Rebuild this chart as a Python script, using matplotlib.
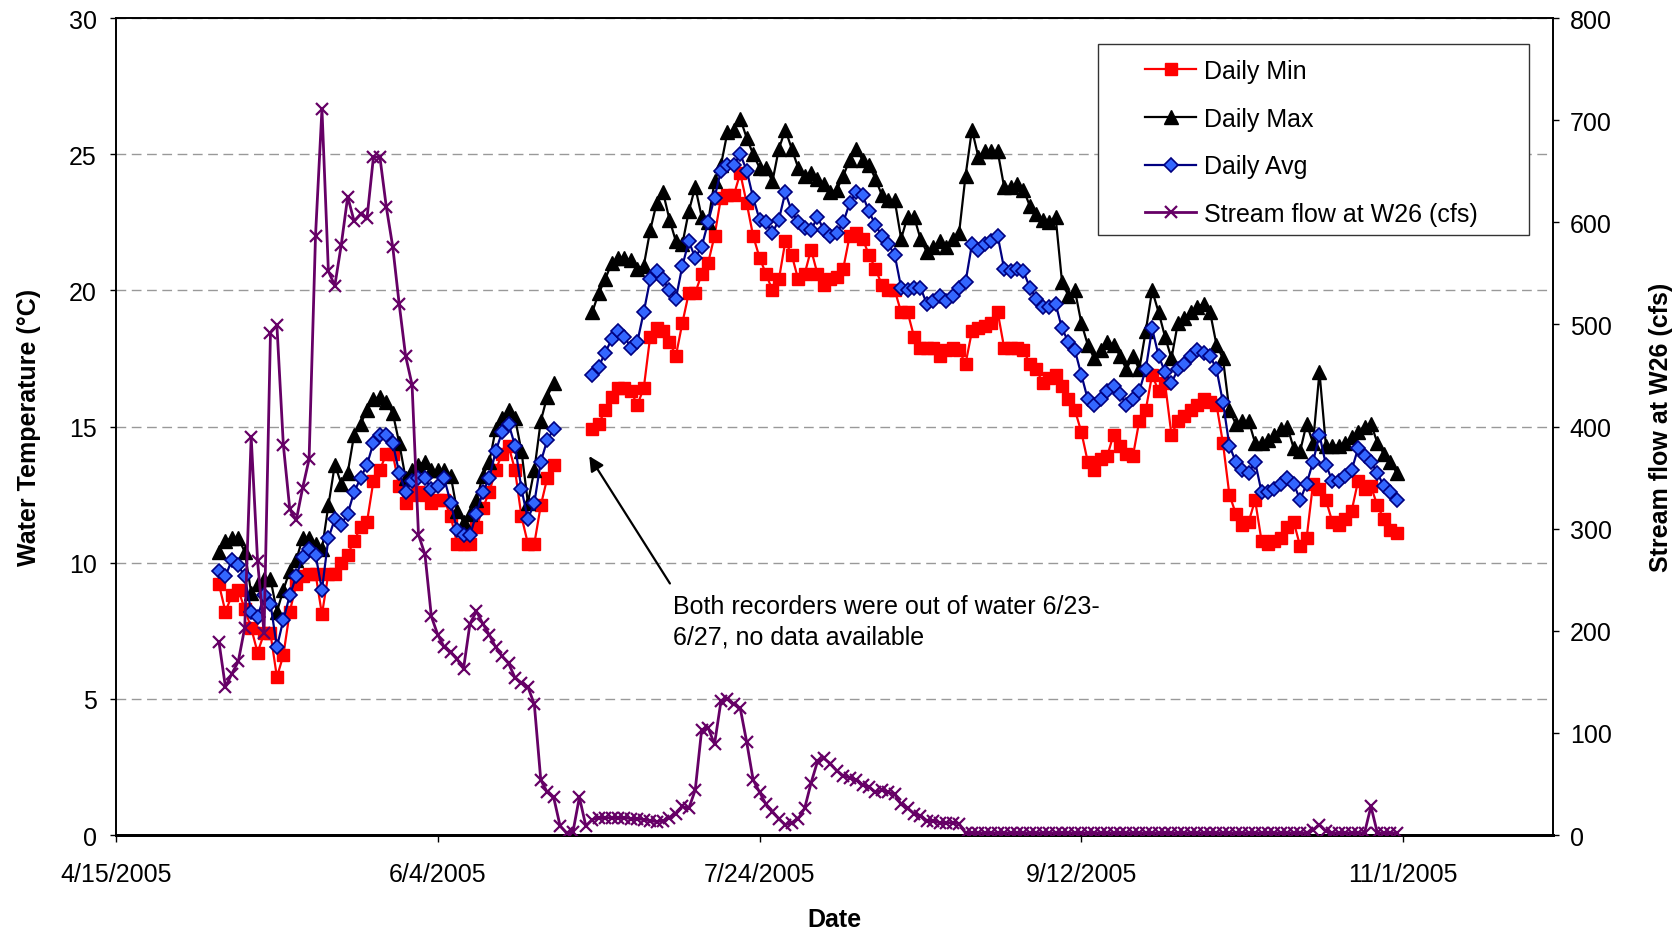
import datetime as dt

import matplotlib
matplotlib.use("Agg")
import matplotlib.pyplot as plt
from matplotlib.patches import Rectangle
import numpy as np

plt.rcParams['font.family'] = ['Liberation Sans', 'DejaVu Sans']

# daily values, 5/1/2005 - 10/31/2005; recorders out of water 6/23 - 6/27
min_seg1 = [9.2, 8.2, 8.8, 9.0, 8.3, 7.6, 6.7, 7.4, 7.4, 5.8, 6.6, 8.2, 9.2, 9.5, 9.6, 9.6, 8.1, 9.6, 9.6, 10.0,
            10.3, 10.8, 11.3, 11.5, 13.0, 13.4, 14.0, 14.0, 12.8, 12.2, 12.5, 12.6, 12.5, 12.2, 12.3, 12.3, 11.7,
            10.7, 10.7, 10.7, 11.3, 12.0, 12.6, 13.4, 14.0, 14.3, 13.4, 11.7, 10.7, 10.7, 12.1, 13.1, 13.6]
max_seg1 = [10.4, 10.8, 10.9, 10.9, 10.4, 8.9, 9.2, 9.4, 9.4, 8.2, 9.0, 9.7, 10.1, 10.9, 10.9, 10.7, 10.5, 12.1,
            13.6, 12.9, 13.3, 14.7, 15.1, 15.6, 16.0, 16.1, 15.9, 15.5, 14.4, 13.1, 13.4, 13.6, 13.7, 13.4, 13.4,
            13.4, 13.2, 11.9, 11.5, 11.8, 12.3, 13.2, 13.7, 14.9, 15.3, 15.6, 15.3, 14.1, 12.2, 13.4, 15.2, 16.1, 16.6]
avg_seg1 = [9.7, 9.5, 10.1, 9.9, 9.5, 8.2, 8.0, 8.8, 8.5, 6.9, 7.9, 8.8, 9.5, 10.2, 10.5, 10.3, 9.0, 10.9, 11.6,
            11.4, 11.8, 12.6, 13.1, 13.6, 14.4, 14.7, 14.7, 14.4, 13.3, 12.6, 13.0, 13.1, 13.1, 12.7, 12.8, 13.1,
            12.2, 11.2, 11.0, 11.0, 11.8, 12.6, 13.1, 14.1, 14.8, 15.1, 14.3, 12.7, 11.6, 12.2, 13.7, 14.5, 14.9]

min_seg2 = [14.9, 15.1, 15.6, 16.1, 16.4, 16.4, 16.3, 15.8, 16.4,
            18.3, 18.6, 18.5, 18.1, 17.6, 18.8, 19.9, 19.9, 20.6, 21.0, 22.0, 23.4, 23.5, 23.5, 24.3, 23.2, 22.0,
            21.2, 20.6, 20.0, 20.4, 21.8, 21.3, 20.4,
            20.6, 21.5, 20.6, 20.2, 20.4, 20.5, 20.8, 22.0, 22.1,
            21.9, 21.3, 20.8, 20.2, 20.0, 20.0, 19.2, 19.2, 18.3, 17.9, 17.9, 17.9, 17.6,
            17.8, 17.9, 17.8, 17.3, 18.5, 18.6, 18.7, 18.8, 19.2, 17.9, 17.9, 17.9, 17.8, 17.3, 17.1, 16.6, 16.8,
            16.9, 16.5, 16.0, 15.6, 14.8,
            13.7, 13.4, 13.8, 13.9, 14.7, 14.3, 14.0, 13.9, 15.2, 15.6, 16.9, 16.3, 16.6, 14.7, 15.2, 15.4, 15.6,
            15.8, 16.0, 15.9, 15.8, 14.4, 12.5, 11.8,
            11.4, 11.5, 12.3, 10.8, 10.7, 10.8, 10.9, 11.3, 11.5, 10.6, 10.9, 12.9, 12.7, 12.3, 11.5, 11.4, 11.6,
            11.9, 13.0, 12.7, 12.8, 12.1, 11.6, 11.2, 11.1]
max_seg2 = [19.2, 19.9, 20.4, 21.0, 21.2, 21.2, 21.1, 20.8,
            20.9, 22.2, 23.2, 23.6, 22.6, 21.8, 21.7, 22.9, 23.8, 22.7, 22.5, 24.0, 24.6, 25.8, 25.9, 26.3, 25.6,
            25.0, 24.5, 24.5, 24.0, 25.2, 25.9, 25.2, 24.5,
            24.2, 24.3, 24.1, 23.9, 23.6, 23.7, 24.2, 24.8, 25.2,
            24.8, 24.6, 24.1, 23.5, 23.3, 23.3, 21.9, 22.7, 22.7, 21.9, 21.4, 21.6, 21.8,
            21.6, 21.9, 22.1, 24.2, 25.9, 24.9, 25.1, 25.1, 25.1, 23.8, 23.8, 23.9, 23.7, 23.1, 22.8, 22.6, 22.5,
            22.7, 20.3, 19.8, 20.0, 18.8, 18.0, 17.5,
            17.8, 18.1, 18.0, 17.6, 17.1, 17.6, 17.1, 18.5, 20.0, 19.2, 18.3, 17.5, 18.8, 19.0, 19.2, 19.4, 19.5,
            19.2, 18.0, 17.5,
            15.6, 15.1, 15.2, 15.2, 14.4, 14.4, 14.5, 14.7, 14.9, 15.0, 14.2, 14.1, 15.1, 14.4, 17.0, 14.3, 14.3,
            14.3, 14.4, 14.6, 14.8, 15.0, 15.1, 14.4, 14.0, 13.7, 13.3]
avg_seg2 = [16.9, 17.2, 17.7, 18.2, 18.5, 18.3, 17.9, 18.1,
            19.2, 20.4, 20.7, 20.4, 20.0, 19.7, 20.9, 21.8, 21.2, 21.6, 22.5, 23.4, 24.4, 24.6, 24.6, 25.0, 24.4,
            23.4, 22.6, 22.5, 22.1, 22.6, 23.6, 22.9, 22.5,
            22.3, 22.2, 22.7, 22.2, 22.0, 22.1, 22.5, 23.2, 23.6,
            23.5, 22.9, 22.4, 22.0, 21.7, 21.3, 20.1, 20.0, 20.1, 20.1, 19.5, 19.6, 19.8,
            19.6, 19.8, 20.1, 20.3, 21.7, 21.5, 21.7, 21.8, 22.0, 20.8, 20.7, 20.8, 20.7, 20.1, 19.7, 19.4, 19.4,
            19.5, 18.6, 18.1, 17.8, 16.9, 16.0, 15.8,
            16.0, 16.3, 16.5, 16.2, 15.8, 16.0, 16.3, 17.1, 18.6, 17.6, 17.0, 16.6, 17.1, 17.3, 17.6, 17.8, 17.7,
            17.6, 17.1, 15.9,
            14.3, 13.7, 13.4, 13.3, 13.7, 12.6, 12.6, 12.7, 12.9, 13.1, 12.9, 12.3, 12.9, 13.7, 14.7, 13.6, 13.0,
            13.0, 13.2, 13.4, 14.2, 13.9, 13.7, 13.3, 12.8, 12.6, 12.3]

flow = [189, 145, 158, 170, 203, 390, 268, 198, 492, 499, 382, 319, 308, 340, 368, 587, 711, 552, 538, 578,
        625, 601, 608, 604, 664, 664, 615, 576, 520, 469, 441, 294, 275, 214, 196, 184, 179, 172, 163, 207,
        219, 207, 196, 184, 175, 168, 154, 149, 145, 128, 54, 42, 37, 9, 2, 3, 37, 9,
        15, 17, 17, 17, 17, 17, 16, 16, 15, 14, 13, 14,
        17, 21, 28, 26, 44, 103, 105, 89, 131, 133, 128, 124, 91, 54, 42, 30, 23, 16, 10, 12,
        16, 26, 51, 72, 75, 70, 63, 58, 56, 54, 49, 47, 42, 44, 42, 40, 30, 26, 21, 19, 14, 14, 12, 12, 12, 11,
        2, 2, 2, 2, 2, 2, 2, 2, 2, 2, 2, 2, 2, 2, 2, 2, 2, 2, 2, 2,
        2, 2, 2, 2, 2, 2, 2, 2, 2, 2, 2, 2, 2, 2, 2, 2, 2, 2, 2, 2,
        2, 2, 2, 2, 2, 2, 2, 2, 2, 2, 2, 2, 2, 2, 5, 10, 4, 2, 2, 2,
        2, 2, 2, 28, 2, 2, 2, 2]

tick_labels = ['4/15/2005', '6/4/2005', '7/24/2005', '9/12/2005', '11/1/2005']

first_day = dt.datetime(2005, 5, 1)
dates = [first_day + dt.timedelta(days=i) for i in range(len(flow))]
gap = [np.nan] * 5
tmin = np.array(min_seg1 + gap + min_seg2)
tmax = np.array(max_seg1 + gap + max_seg2)
tavg = np.array(avg_seg1 + gap + avg_seg2)
tick_dates = [dt.datetime.strptime(s, '%m/%d/%Y') for s in tick_labels]

fig = plt.figure(figsize=(16.79, 9.29), dpi=100)
ax = fig.add_axes([0.0691, 0.1001, 0.8559, 0.8794])

ax.plot(dates, tmin, color='#FF0000', lw=1.6, marker='s', ms=8.5, mec='#FF0000', mfc='#FF0000',
        label='Daily Min', zorder=3)
ax.plot(dates, tmax, color='black', lw=1.6, marker='^', ms=9.5, mec='black', mfc='black',
        label='Daily Max', zorder=3)
ax.plot(dates, tavg, color='#000080', lw=1.6, marker='D', ms=7, mec='#000080', mfc='#3366FF', mew=1.2,
        label='Daily Avg', zorder=3)

start = dt.datetime(2005, 4, 15)
ax.set_xlim(start, start + dt.timedelta(days=223.3))
ax.set_xticks(tick_dates)
ax.set_xticklabels(tick_labels)
ax.set_ylim(0, 30)
ax.set_yticks(range(0, 31, 5))
ax.yaxis.grid(True, color='#999999', lw=1.0, dashes=(7, 4))
ax.set_axisbelow(True)

ax.tick_params(axis='y', direction='out', length=4, width=1, labelsize=18, pad=10)
ax.tick_params(axis='x', direction='out', length=5, width=1, labelsize=18, pad=14.5)
ax.set_xlabel('Date', fontsize=18, fontweight='bold', labelpad=15)
ax.set_ylabel('Water Temperature (°C)', fontsize=18, fontweight='bold', labelpad=20)

ax2 = ax.twinx()
ax2.plot(dates, flow, color='#660066', lw=2.0, marker='x', ms=9, mew=1.6,
         label='Stream flow at W26 (cfs)', zorder=4)
ax2.set_ylim(0, 800)
ax2.set_yticks(range(0, 801, 100))
ax2.tick_params(axis='y', direction='out', length=4, width=1, labelsize=18, pad=8)
ax2.set_ylabel('Stream flow at W26 (cfs)', fontsize=18, fontweight='bold', labelpad=27)

for a in (ax, ax2):
    for side in ('left', 'right', 'top'):
        a.spines[side].set_linewidth(1.2)
    a.spines['bottom'].set_linewidth(2.0)

# annotation for the data gap
ax.annotate('', xy=(start + dt.timedelta(days=73.3), 14.0),
            xytext=(start + dt.timedelta(days=86.3), 9.15),
            arrowprops=dict(arrowstyle='-|>', color='black', lw=1.6, mutation_scale=22))
ax.text(start + dt.timedelta(days=86.6), 8.85,
        'Both recorders were out of water 6/23-\n6/27, no data available',
        fontsize=18, ha='left', va='top', linespacing=1.34)

# legend
ax2.add_patch(Rectangle((0.683, 0.734), 0.300, 0.234, transform=ax2.transAxes,
                        facecolor='white', edgecolor='#333333', lw=1.0, zorder=5))
h1, l1 = ax.get_legend_handles_labels()
h2, l2 = ax2.get_legend_handles_labels()
leg = ax2.legend(h1 + h2, l1 + l2, loc='upper left', bbox_to_anchor=(0.716, 0.950), frameon=False,
                 fontsize=18, handlelength=2.05, handletextpad=0.3, labelspacing=0.95, borderpad=0,
                 borderaxespad=0)
leg.set_zorder(6)

fig.savefig('out.png', dpi=100)
